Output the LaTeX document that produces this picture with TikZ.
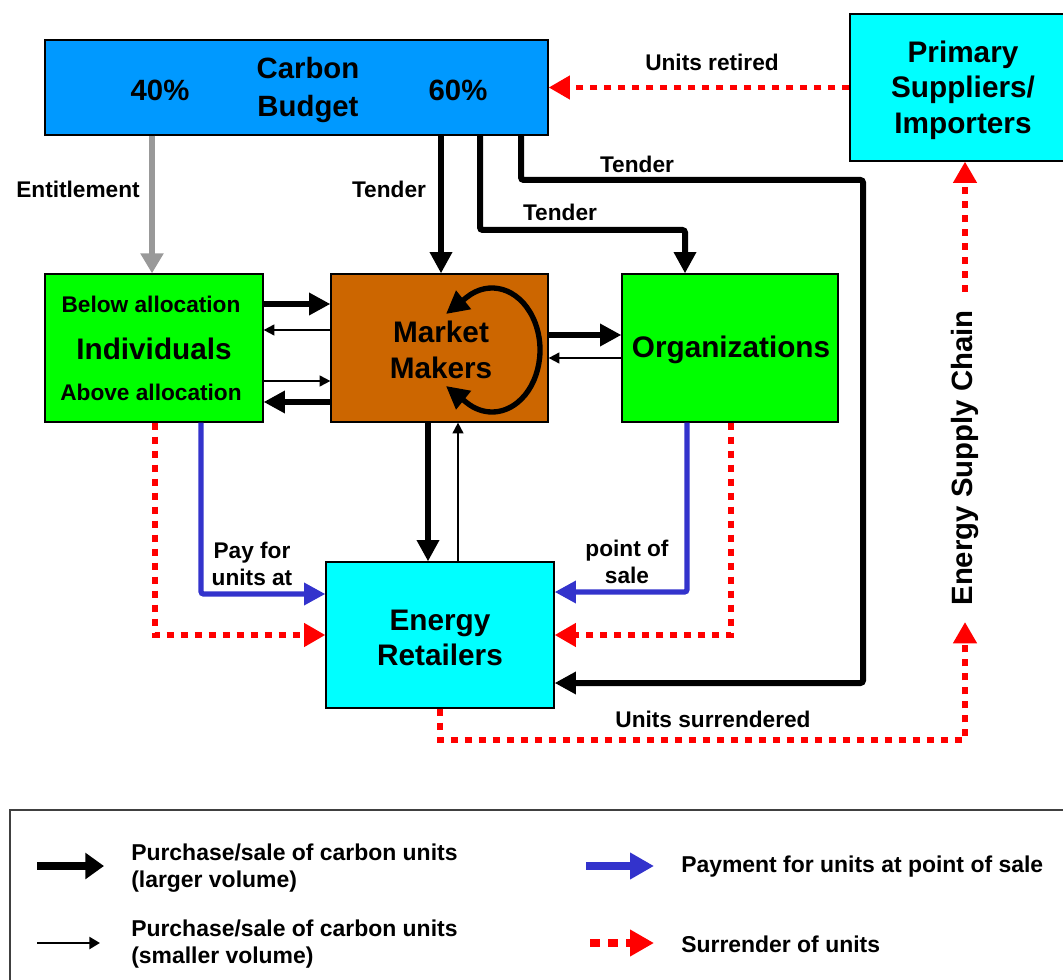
\documentclass[tikz,border=0pt]{standalone}
\usepackage{fontspec}
\setmainfont{Liberation Sans}
\usetikzlibrary{arrows.meta}
\definecolor{cbblue}{HTML}{0099FF}
\definecolor{cyanbox}{HTML}{00FFFF}
\definecolor{greenbox}{HTML}{00FF00}
\definecolor{mmorange}{HTML}{CC6600}
\definecolor{payblue}{HTML}{3333CC}
\definecolor{surred}{HTML}{FF0000}
\definecolor{entgray}{HTML}{999999}
\tikzset{
  box/.style={draw=black, line width=0.9pt, inner sep=0pt, align=center, font=\bfseries\fontsize{22.3}{26.5}\selectfont},
  lbl/.style={font=\bfseries\fontsize{17}{20.3}\selectfont, inner sep=0pt, align=center},
  midlbl/.style={font=\bfseries\fontsize{17}{20}\selectfont, inner sep=0pt},
  cblbl/.style={font=\bfseries\fontsize{22}{28.5}\selectfont, inner sep=0pt, align=center},
  leglbl/.style={font=\bfseries\fontsize{17.2}{20.3}\selectfont, inner sep=0pt, align=left, anchor=west},
  thickarr/.style={line width=4.5pt, -{Triangle[length=16pt,width=16pt]}},
  thinarr/.style={line width=1.4pt, -{Triangle[length=8pt,width=8pt]}},
  grayarr/.style={entgray, line width=4.5pt, -{Triangle[length=15pt,width=16.5pt]}},
  payarr/.style={payblue, line width=4pt, rounded corners=2pt, -{Triangle[length=16pt,width=16pt]}},
  surarr/.style={surred, line width=4pt, dash pattern=on 5.5pt off 5pt, -{Triangle[length=16pt,width=17pt]}},
}
\begin{document}
\begin{tikzpicture}[x=0.75pt,y=-0.75pt]
\useasboundingbox (0,0) rectangle (1063,980);
% boxes
\node[box, fill=cbblue, minimum width=377.25pt, minimum height=71.25pt] (cb) at (296.5,87.5) {};
\node[cblbl] (cbt) at (308,90) {Carbon\\Budget};
\node[cblbl] (p40) at (160,90) {40\%};
\node[cblbl] (p60) at (458,90) {60\%};
\node[box, fill=cyanbox, minimum width=169.5pt, minimum height=110.25pt] (prim) at (963,87.5) {};
\node[box, draw=none, fill=none] (primt) at (963,90) {Primary\\Suppliers/\\Importers};
\node[box, fill=greenbox, minimum width=163.5pt, minimum height=111pt] (ind) at (154,348) {};
\node[midlbl] (below) at (151,304) {Below allocation};
\node[box, draw=none, fill=none] (indt) at (154,349) {Individuals};
\node[midlbl] (above) at (151,392) {Above allocation};
\node[box, fill=mmorange, minimum width=162.75pt, minimum height=111pt] (mm) at (439.5,348) {};
\node[box, draw=none, fill=none] (mmt) at (441,350) {Market\\Makers};
\node[box, fill=greenbox, minimum width=162pt, minimum height=111pt] (org) at (730,348) {};
\node[box, draw=none, fill=none] (orgt) at (731,350) {Organizations};
\node[box, fill=cyanbox, minimum width=171pt, minimum height=109.5pt] (ret) at (440,635) {};
\node[box, draw=none, fill=none] (rett) at (440,638) {Energy\\Retailers};
\node[font=\bfseries\fontsize{22}{24}\selectfont, rotate=90, inner sep=0pt] (esc) at (965,458) {Energy Supply Chain};
% guides
\coordinate (gE) at (152,0);
\coordinate (gT1) at (441,0);
\coordinate (gT2) at (480,0);
\coordinate (gT3) at (521,0);
\coordinate (gO) at (685,0);
\coordinate (gR) at (863,0);
\coordinate (gIr) at (155,0);
\coordinate (gIb) at (201,0);
\coordinate (gOb) at (687,0);
\coordinate (gOr) at (731,0);
\coordinate (gMd) at (428,0);
\coordinate (gMu) at (458,0);
\coordinate (gS) at (965,0);
\coordinate (hA) at (0,304);
\coordinate (hB) at (0,330);
\coordinate (hC) at (0,381);
\coordinate (hD) at (0,402);
\coordinate (hE) at (0,335);
\coordinate (hF) at (0,358);
\coordinate (hT2) at (0,230);
\coordinate (hT3) at (0,180);
\coordinate (hRet) at (0,683);
\coordinate (hB1) at (0,594);
\coordinate (hB2) at (0,592);
\coordinate (hR1) at (0,635);
\coordinate (hU) at (0,740);
\coordinate (escTop) at (965,292);
\coordinate (escBot) at (965,622);
% connectors from carbon budget
\draw[grayarr] (cb.south -| gE) -- (ind.north -| gE);
\draw[thickarr] (cb.south -| gT1) -- (mm.north -| gT1);
\draw[thickarr, rounded corners=2pt] (cb.south -| gT2) -- (gT2 |- hT2) -- (gO |- hT2) -- (org.north -| gO);
\draw[thickarr, rounded corners=2pt] (cb.south -| gT3) -- (gT3 |- hT3) -- (gR |- hT3) -- (gR |- hRet) -- (ret.east |- hRet);
\draw[surarr] (prim.west) -- (cb.east |- prim.west);
% individuals <-> market makers
\draw[thickarr] (ind.east |- hA) -- (mm.west |- hA);
\draw[thinarr] (mm.west |- hB) -- (ind.east |- hB);
\draw[thinarr] (ind.east |- hC) -- (mm.west |- hC);
\draw[thickarr] (mm.west |- hD) -- (ind.east |- hD);
% market makers <-> organizations
\draw[thickarr] (mm.east |- hE) -- (org.west |- hE);
\draw[thinarr] (org.west |- hF) -- (mm.east |- hF);
% market makers <-> retailers
\draw[thickarr] (mm.south -| gMd) -- (ret.north -| gMd);
\draw[thinarr] (ret.north -| gMu) -- (mm.south -| gMu);
% self loop
\coordinate (mmc) at (492,350);
\coordinate (loopTop) at (446,314);
\coordinate (loopBot) at (446,386);
\draw[line width=4pt, line join=round, {Triangle[length=17pt,width=17pt]}-{Triangle[length=17pt,width=17pt]}]
  (loopTop) -- ([shift={(122:36pt and 46.5pt)}]mmc) arc[start angle=122, end angle=-122, x radius=36pt, y radius=46.5pt] -- (loopBot);
% payments
\draw[payarr] (ind.south -| gIb) |- (ret.west |- hB1);
\draw[payarr] (org.south -| gOb) |- (ret.east |- hB2);
% surrender
\draw[surarr] (ind.south -| gIr) |- (ret.west |- hR1);
\draw[surarr] (org.south -| gOr) |- (ret.east |- hR1);
\draw[surarr] (ret.south) |- (gS |- hU) -- (escBot);
\draw[surarr] (escTop) -- (prim.south -| gS);
% labels
\node[lbl] (lEnt) at (78,189) {Entitlement};
\node[lbl] (lT1) at (389,189) {Tender};
\node[lbl] (lT2) at (560,212) {Tender};
\node[lbl] (lT3) at (637,164) {Tender};
\node[lbl] (lUR) at (712,62) {Units retired};
\node[lbl] (lUS) at (713,719) {Units surrendered};
\node[lbl] (lPay) at (252,564) {Pay for\\units at};
\node[lbl] (lPos) at (627,562) {point of\\sale};
% legend
\draw[line width=1pt, draw=black!75] (10,810) rectangle (1090,1000);
\coordinate (l1a) at (37,866); \coordinate (l1b) at (104,866);
\coordinate (l2a) at (37,943); \coordinate (l2b) at (100,943);
\coordinate (l3a) at (586,866); \coordinate (l3b) at (654,866);
\coordinate (l4a) at (590,943); \coordinate (l4b) at (654,943);
\draw[line width=5.5pt, -{Triangle[length=14pt,width=19pt]}] (l1a) -- (l1b);
\draw[line width=1.8pt, -{Triangle[length=8pt,width=9pt]}] (l2a) -- (l2b);
\draw[payblue, line width=5.5pt, -{Triangle[length=18pt,width=19pt]}] (l3a) -- (l3b);
\draw[surred, line width=6pt, dash pattern=on 7.5pt off 6pt, -{Triangle[length=18pt,width=19pt]}] (l4a) -- (l4b);
\node[leglbl] (t1) at (131,868.5) {Purchase/sale of carbon units\\(larger volume)};
\node[leglbl] (t2) at (131,944.5) {Purchase/sale of carbon units\\(smaller volume)};
\node[leglbl] (t3) at (681,867) {Payment for units at point of sale};
\node[leglbl] (t4) at (681,944) {Surrender of units};
\end{tikzpicture}
\end{document}
